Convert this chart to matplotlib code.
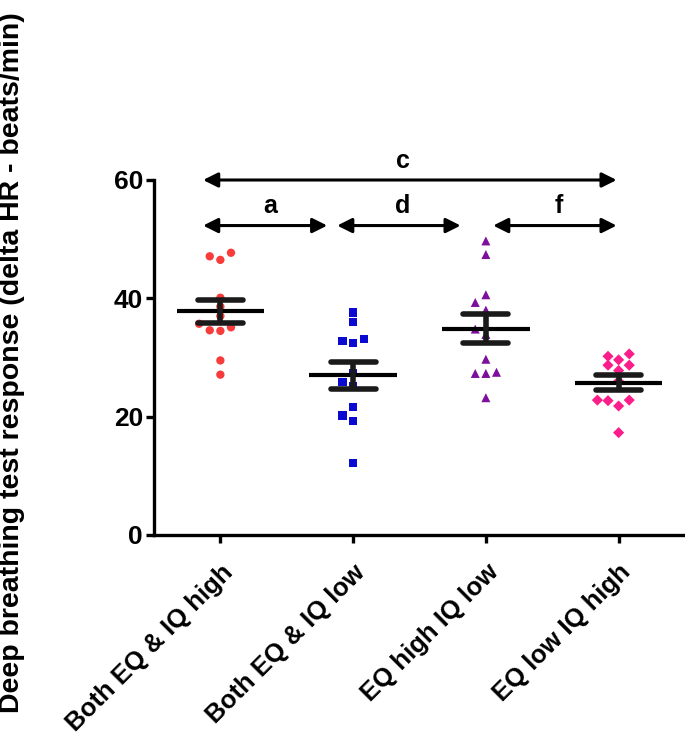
import numpy as np
import matplotlib
matplotlib.use('Agg')
import matplotlib.pyplot as plt

plt.rcParams['font.family'] = ['Liberation Sans', 'DejaVu Sans']
plt.rcParams['font.weight'] = 'bold'

# values (beats/min)
groups = ['Both EQ & IQ high', 'Both EQ & IQ low', 'EQ high IQ low', 'EQ low IQ high']
both_high = [47.1, 46.5, 47.7, 40.1, 38.6, 37.0, 35.7, 35.1, 34.5, 34.6, 29.5, 27.1]
both_low = [37.6, 36.0, 32.8, 32.5, 33.1, 27.4, 25.8, 25.1, 21.7, 20.2, 19.2, 12.2]
eq_high_iq_low = [49.7, 47.4, 40.6, 39.3, 38.0, 34.8, 33.9, 29.7, 27.3, 27.3, 27.5, 23.2]
eq_low_iq_high = [30.6, 29.6, 30.2, 28.7, 28.7, 27.8, 26.0, 22.8, 22.7, 21.8, 22.8, 17.3]
data = [both_high, both_low, eq_high_iq_low, eq_low_iq_high]

markers = ['o', 's', '^', 'D']
colors = ['#f83c3c', '#0a0ad0', '#7d0f9c', '#fa1d8a']
msizes = [36, 34, 42, 32]

# significance brackets: (start, end, level, label, label x)
brackets = [(-0.13, 2.985, 60, 'c', 1.374),
            (-0.13, 0.805, 52.3, 'a', 0.372),
            (0.88, 1.81, 52.3, 'd', 1.374),
            (2.055, 2.985, 52.3, 'f', 2.55)]


def swarm_offsets(vals, step=0.08, ythr=1.3):
    # simple greedy column layout, like a dot plot
    order = np.argsort(vals)
    placed = []
    offs = np.zeros(len(vals))
    for i in order:
        k = 0
        cands = [0]
        for j in range(1, 6):
            cands += [-j, j]
        for c in cands:
            ok = True
            for (pc, pv) in placed:
                if pc == c and abs(pv - vals[i]) < ythr:
                    ok = False
                    break
            if ok:
                k = c
                break
        placed.append((k, vals[i]))
        offs[i] = k * step
    return offs


fig = plt.figure(figsize=(6.85, 7.38), dpi=100)
ax = fig.add_axes([0.2248, 0.2751, 0.7752, 0.4810])

for i, vals in enumerate(data):
    vals = np.array(vals)
    xs = i + swarm_offsets(vals)
    ax.scatter(xs, vals, marker=markers[i], s=msizes[i], color=colors[i],
               edgecolors='none', zorder=2)
    m = vals.mean()
    sem = vals.std(ddof=1) / np.sqrt(len(vals))
    ax.hlines(m, i - 0.33, i + 0.33, color='black', lw=3, zorder=3)
    ax.hlines([m - sem, m + sem], i - 0.17, i + 0.17, color='#1a1a1a', lw=4,
              capstyle='round', zorder=3)
    ax.vlines(i, m - sem, m + sem, color='#1a1a1a', lw=4, zorder=3)

for x0, x1, y, lab, lx in brackets:
    ax.annotate('', xy=(x1, y), xytext=(x0, y), annotation_clip=False,
                arrowprops=dict(arrowstyle='<|-|>', lw=2.2, color='black',
                                mutation_scale=22, shrinkA=0, shrinkB=0))
    ax.text(lx, y + 2.1, lab, ha='center', va='baseline',
            fontsize=18, fontweight='bold', clip_on=False)

ax.set_xlim(-0.5, 3.5)
ax.set_ylim(0, 60)
ax.set_yticks([0, 20, 40, 60])
ax.set_xticks(range(4))
ax.set_xticklabels(groups, rotation=45, ha='right', va='top',
                   rotation_mode='anchor', fontsize=18.5, fontweight='bold')
for lab in ax.get_yticklabels():
    lab.set_fontsize(19)
    lab.set_fontweight('bold')

for s in ['top', 'right']:
    ax.spines[s].set_visible(False)
for s in ['left', 'bottom']:
    ax.spines[s].set_linewidth(2.4)
ax.tick_params(axis='both', width=2.4, length=6)
ax.tick_params(axis='y', pad=2)
ax.tick_params(axis='x', pad=12)

fig.text(0.017, 0.508, 'Deep breathing test response (delta HR - beats/min)',
         rotation=90, ha='center', va='center', fontsize=20.5, fontweight='bold')

plt.savefig('out.png', dpi=100)
